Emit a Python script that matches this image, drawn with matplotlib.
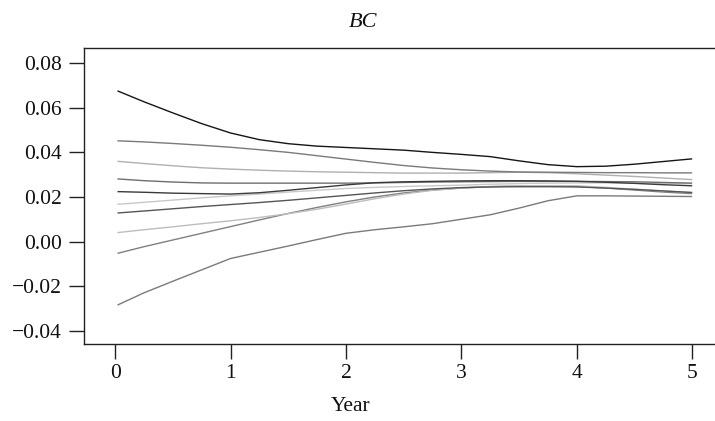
import matplotlib
matplotlib.use("Agg")
import matplotlib.pyplot as plt

plt.rcParams['font.family'] = ['Liberation Serif', 'DejaVu Serif']

years = [0.02, 0.25, 0.5, 0.75, 1.0, 1.25, 1.5, 1.75, 2.0, 2.25, 2.5,
         2.75, 3.0, 3.25, 3.5, 3.75, 4.0, 4.25, 4.5, 4.75, 5.0]

s_a = [0.0676, 0.0627, 0.0577, 0.0529, 0.0487, 0.0457, 0.0439, 0.0428, 0.0422, 0.0416, 0.0410,
       0.0400, 0.0391, 0.0381, 0.0362, 0.0345, 0.0336, 0.0338, 0.0347, 0.0359, 0.0371]
s_b = [0.0452, 0.0447, 0.0440, 0.0432, 0.0423, 0.0412, 0.0400, 0.0385, 0.0370, 0.0355, 0.0341,
       0.0330, 0.0322, 0.0316, 0.0312, 0.0311, 0.0310, 0.0309, 0.0309, 0.0308, 0.0308]
s_c = [0.0360, 0.0350, 0.0340, 0.0331, 0.0325, 0.0320, 0.0316, 0.0313, 0.0311, 0.0309, 0.0307,
       0.0307, 0.0307, 0.0309, 0.0311, 0.0309, 0.0304, 0.0298, 0.0292, 0.0285, 0.0278]
s_d = [0.0281, 0.0273, 0.0267, 0.0263, 0.0262, 0.0262, 0.0262, 0.0262, 0.0262, 0.0263, 0.0265,
       0.0267, 0.0268, 0.0269, 0.0270, 0.0270, 0.0270, 0.0269, 0.0268, 0.0265, 0.0262]
s_e = [0.0224, 0.0221, 0.0217, 0.0215, 0.0213, 0.0219, 0.0230, 0.0242, 0.0254, 0.0264, 0.0268,
       0.0270, 0.0272, 0.0273, 0.0273, 0.0272, 0.0270, 0.0266, 0.0261, 0.0255, 0.0250]
s_f = [0.0167, 0.0176, 0.0186, 0.0196, 0.0205, 0.0213, 0.0222, 0.0230, 0.0238, 0.0243, 0.0247,
       0.0250, 0.0253, 0.0257, 0.0260, 0.0262, 0.0263, 0.0263, 0.0262, 0.0261, 0.0260]
s_g = [0.0128, 0.0137, 0.0147, 0.0157, 0.0166, 0.0175, 0.0185, 0.0196, 0.0207, 0.0218, 0.0228,
       0.0236, 0.0242, 0.0245, 0.0246, 0.0246, 0.0245, 0.0240, 0.0234, 0.0227, 0.0220]
s_h = [0.0040, 0.0053, 0.0066, 0.0080, 0.0093, 0.0108, 0.0125, 0.0145, 0.0168, 0.0192, 0.0213,
       0.0230, 0.0240, 0.0247, 0.0250, 0.0251, 0.0250, 0.0243, 0.0235, 0.0227, 0.0220]
s_i = [-0.0053, -0.0023, 0.0007, 0.0037, 0.0067, 0.0097, 0.0126, 0.0153, 0.0178, 0.0200, 0.0218,
       0.0231, 0.0240, 0.0246, 0.0249, 0.0249, 0.0247, 0.0240, 0.0231, 0.0222, 0.0215]
s_j = [-0.0285, -0.0230, -0.0178, -0.0127, -0.0076, -0.0048, -0.0020, 0.0009, 0.0037, 0.0053, 0.0066,
       0.0080, 0.0100, 0.0120, 0.0150, 0.0183, 0.0205, 0.0205, 0.0204, 0.0203, 0.0202]

series = [s_j, s_i, s_h, s_g, s_f, s_d, s_c, s_b, s_e, s_a]
colors = ['#7a7a7a', '#808080', '#bdbdbd', '#555555', '#c8c8c8',
          '#6e6e6e', '#b0b0b0', '#7a7a7a', '#3a3a3a', '#151515']

xticks = [0, 1, 2, 3, 4, 5]
yticks = [-0.04, -0.02, 0.00, 0.02, 0.04, 0.06, 0.08]
ytick_labels = ['\u22120.04', '\u22120.02', '0.00', '0.02', '0.04', '0.06', '0.08']

fig = plt.figure(figsize=(7.15, 4.21), dpi=100)
ax = fig.add_axes([0.1175, 0.1822, 0.899, 0.7031])

for vals, col in zip(series, colors):
    ax.plot(years, vals, color=col, lw=1.0, solid_capstyle='butt')

ax.set_xlim(-0.27, 5.30)
ax.set_ylim(-0.0461, 0.0867)
ax.set_xticks(xticks)
ax.set_xticklabels([str(t) for t in xticks])
ax.set_yticks(yticks)
ax.set_yticklabels(ytick_labels)
ax.tick_params(direction='out', length=10.5, width=1.0, labelsize=15.5,
               color='#222222', labelcolor='#111111')
ax.tick_params(axis='y', pad=5.5)
ax.tick_params(axis='x', pad=3.5)
for side in ['left', 'top', 'bottom']:
    ax.spines[side].set_linewidth(1.0)
    ax.spines[side].set_color('#222222')
ax.spines['right'].set_visible(False)

ax.set_xlabel('Year', fontsize=15.5, color='#111111')
ax.xaxis.set_label_coords(0.4154, -0.178)

fig.text(363 / 715, 1 - 27 / 421, 'BC', fontsize=16, style='italic',
         ha='center', va='baseline', color='#111111')

fig.savefig('out.png', dpi=100)
